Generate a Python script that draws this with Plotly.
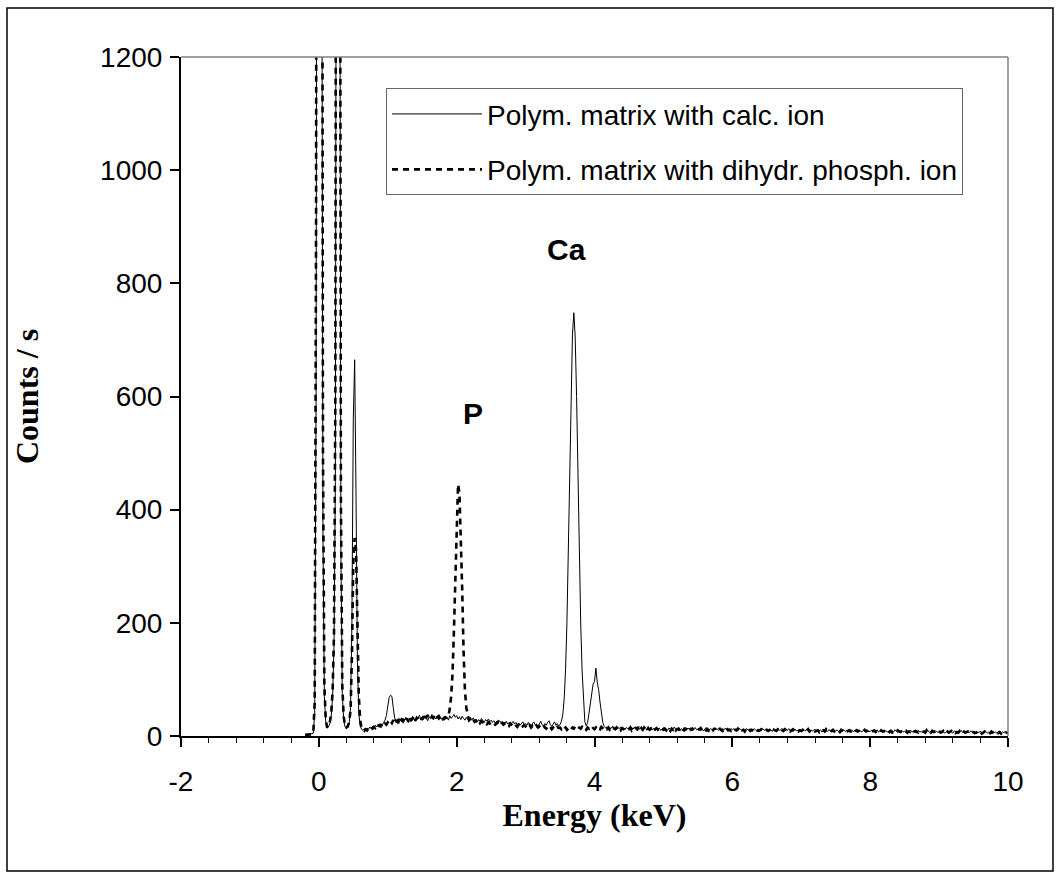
import numpy as np
import plotly.graph_objects as go

# ---- Data -------------------------------------------------------------
# energy channels: -0.20 keV to 10.00 keV, 0.02 keV per channel
energy = np.round(-0.20 + 0.02 * np.arange(511), 2)

# Polym. matrix with calc. ion (solid)
counts_calc = [
    2, 3, 2, 3, 3, 4, 5, 40, 600, 2600,                                  # -0.20 .. -0.02
    4800, 4300, 1700, 350, 70, 25, 14, 16, 22, 35, 70, 160, 450, 2500, 4200, 1900, 330, 75, 30, 16, 14, 16, 22, 50, 200,  # 0.00
    560, 665, 420, 130, 40, 18, 12, 10, 13, 11, 14, 12, 16, 13, 17, 15, 19, 16, 21, 18, 22, 19, 24, 28, 36,        # 0.50
    52, 68, 72, 70, 50, 32, 24, 27, 22, 29, 25, 31, 26, 33, 28, 24, 32, 27, 35, 29, 26, 34, 30, 37, 28,            # 1.00
    33, 29, 36, 30, 27, 34, 31, 38, 29, 33, 30, 36, 28, 34, 31, 27, 35, 30, 33, 28, 36, 31, 34, 38, 33,            # 1.50
    36, 30, 34, 29, 35, 31, 28, 33, 30, 26, 31, 28, 32, 27, 30, 25, 29, 26, 31, 27, 24, 29, 26, 30, 25,            # 2.00
    28, 24, 27, 23, 26, 22, 27, 24, 21, 25, 22, 26, 21, 24, 20, 23, 26, 21, 24, 20, 23, 19, 22, 25, 20,            # 2.50
    22, 19, 24, 20, 18, 22, 25, 19, 21, 17, 23, 26, 20, 18, 22, 19, 24, 27, 20, 17, 21, 25, 19, 22, 18,            # 3.00
    20, 26, 38, 66, 117, 200, 318, 461, 603, 709, 748, 705, 600, 460, 315, 198, 115, 62, 25, 18, 24, 40, 60, 80, 92,  # 3.50
    96, 120, 95, 82, 60, 38, 24, 17, 14, 16, 12, 15, 13, 17, 12, 14, 11, 15, 13, 16, 12, 14, 11, 15, 13,           # 4.00
    14, 11, 15, 12, 16, 13, 10, 14, 12, 17, 11, 13, 15, 10, 14, 12, 16, 11, 13, 9, 15, 12, 14, 10, 13,             # 4.50
    15, 11, 13, 10, 14, 12, 9, 13, 16, 11, 12, 14, 10, 13, 11, 15, 9, 12, 14, 11, 13, 10, 12, 15, 11,              # 5.00
    12, 14, 10, 13, 9, 12, 15, 11, 10, 13, 12, 9, 14, 11, 13, 10, 12, 8, 13, 11, 14, 10, 12, 9, 13,                # 5.50
    11, 13, 10, 12, 9, 14, 11, 10, 12, 8, 13, 11, 10, 12, 9, 11, 13, 10, 8, 12, 11, 9, 13, 10, 11,                 # 6.00
    9, 12, 10, 11, 8, 13, 10, 9, 12, 10, 11, 8, 12, 9, 11, 10, 13, 9, 10, 8, 12, 10, 9, 11, 10,                    # 6.50
    10, 8, 11, 9, 12, 10, 8, 11, 9, 10, 12, 8, 10, 9, 11, 7, 10, 12, 9, 8, 11, 10, 9, 7, 10,                       # 7.00
    9, 11, 8, 10, 7, 9, 11, 8, 10, 9, 7, 11, 9, 8, 10, 9, 12, 8, 9, 7, 10, 8, 11, 9, 8,                            # 7.50
    8, 10, 7, 9, 8, 11, 7, 9, 8, 10, 6, 9, 8, 7, 10, 8, 9, 7, 11, 8, 6, 9, 8, 10, 7,                               # 8.00
    8, 6, 9, 7, 10, 8, 7, 9, 6, 8, 10, 7, 8, 6, 9, 7, 8, 10, 6, 8, 7, 9, 6, 8, 7,                                  # 8.50
    7, 9, 6, 8, 5, 7, 9, 6, 8, 7, 5, 9, 7, 6, 8, 7, 10, 6, 7, 5, 8, 7, 6, 9, 7,                                    # 9.00
    6, 8, 5, 7, 6, 9, 5, 7, 6, 8, 5, 7, 6, 4, 8, 6, 7, 5, 8, 6, 5, 7, 6, 8, 5,                                     # 9.50
    6,                                                                                                              # 10.00
]

# Polym. matrix with dihydr. phosph. ion (dashed)
counts_phosph = [
    2, 2, 3, 2, 3, 3, 6, 60, 900, 3500,                                  # -0.20 .. -0.02
    6500, 6000, 2500, 500, 90, 30, 15, 18, 25, 40, 80, 180, 600, 3200, 5200, 2400, 420, 90, 35, 18, 15, 17, 25, 45, 140,  # 0.00
    310, 350, 330, 200, 70, 28, 14, 11, 9, 12, 10, 13, 11, 15, 13, 16, 14, 18, 15, 19, 17, 21, 18, 22, 20,          # 0.50
    24, 21, 26, 23, 28, 22, 27, 25, 30, 24, 29, 26, 32, 27, 31, 25, 33, 28, 30, 35, 27, 32, 29, 34, 31,            # 1.00
    30, 35, 28, 33, 37, 31, 29, 34, 32, 36, 30, 33, 35, 29, 34, 31, 30, 33, 32, 36, 48, 70, 110, 185, 270,          # 1.50
    370, 445, 430, 360, 260, 150, 80, 50, 35, 28, 30, 26, 29, 25, 27, 24, 28, 23, 26, 24, 22, 25, 21, 24, 22,       # 2.00
    24, 21, 23, 20, 22, 25, 21, 19, 23, 20, 22, 19, 21, 18, 22, 20, 17, 21, 19, 16, 20, 18, 21, 17, 19,            # 2.50
    17, 20, 16, 19, 15, 18, 16, 14, 18, 15, 17, 14, 16, 19, 15, 13, 17, 14, 16, 12, 15, 17, 13, 16, 14,            # 3.00
    15, 12, 16, 13, 15, 11, 14, 16, 12, 15, 13, 17, 14, 12, 15, 13, 16, 12, 14, 11, 15, 13, 16, 12, 14,            # 3.50
    12, 15, 11, 14, 12, 16, 13, 11, 14, 12, 15, 11, 13, 10, 14, 12, 15, 11, 13, 10, 14, 12, 11, 14, 12,            # 4.00
    12, 15, 10, 13, 11, 14, 12, 16, 10, 13, 11, 15, 12, 9, 14, 11, 13, 15, 10, 12, 14, 11, 13, 10, 12,             # 4.50
    11, 13, 10, 14, 12, 9, 13, 11, 15, 10, 12, 13, 9, 14, 11, 10, 13, 12, 9, 14, 11, 13, 10, 12, 11,               # 5.00
    10, 12, 14, 9, 11, 13, 10, 12, 8, 13, 11, 10, 14, 9, 12, 11, 13, 10, 9, 12, 11, 14, 10, 11, 9,                 # 5.50
    12, 9, 11, 10, 13, 9, 12, 10, 11, 8, 12, 10, 13, 9, 11, 10, 8, 12, 11, 9, 10, 12, 9, 11, 10,                   # 6.00
    11, 9, 10, 12, 8, 11, 10, 9, 12, 10, 8, 11, 9, 12, 10, 9, 11, 8, 10, 12, 9, 10, 11, 8, 10,                     # 6.50
    9, 11, 8, 10, 9, 12, 8, 10, 9, 11, 8, 9, 10, 7, 11, 9, 10, 8, 12, 9, 8, 10, 9, 11, 8,                          # 7.00
    10, 8, 9, 7, 11, 9, 8, 10, 7, 9, 10, 8, 11, 9, 7, 10, 8, 9, 10, 7, 9, 11, 8, 9, 7,                             # 7.50
    9, 7, 8, 10, 7, 9, 8, 6, 10, 8, 9, 7, 8, 10, 7, 9, 6, 8, 9, 7, 10, 8, 7, 9, 8,                                 # 8.00
    7, 9, 6, 8, 7, 10, 6, 8, 9, 7, 6, 8, 9, 7, 8, 6, 10, 7, 8, 6, 9, 7, 8, 6, 9,                                   # 8.50
    8, 6, 7, 9, 5, 7, 8, 6, 7, 9, 6, 8, 5, 7, 6, 9, 7, 5, 8, 6, 7, 8, 6, 5, 8,                                     # 9.00
    7, 5, 6, 8, 5, 7, 4, 6, 8, 5, 7, 6, 5, 8, 6, 4, 7, 6, 5, 7, 4, 6, 8, 5, 6,                                     # 9.50
    5,                                                                                                              # 10.00
]

series_names = ["Polym. matrix with calc. ion", "Polym. matrix with dihydr. phosph. ion"]
peak_labels = ["Ca", "P"]
peak_label_x = [3.60, 2.23]
peak_label_y = [860, 570]
x_ticks = [-2, 0, 2, 4, 6, 8, 10]
y_ticks = [0, 200, 400, 600, 800, 1000, 1200]

assert len(counts_calc) == len(energy) == len(counts_phosph)

# ---- Figure -----------------------------------------------------------
SANS = "Liberation Sans, Arial, sans-serif"
SERIF = "Liberation Serif, Times New Roman, serif"

fig = go.Figure()
fig.add_trace(go.Scatter(
    x=energy, y=counts_calc, mode="lines", name=series_names[0],
    line=dict(color="black", width=1), legendgroup="a",
))
fig.add_trace(go.Scatter(
    x=energy, y=counts_phosph, mode="lines", name=series_names[1],
    line=dict(color="black", width=2.6, dash="6px,5px"), legendgroup="b",
))

for lbl, lx, ly in zip(peak_labels, peak_label_x, peak_label_y):
    fig.add_annotation(x=lx, y=ly, text=f"<b>{lbl}</b>", showarrow=False,
                       font=dict(family=SANS, size=30, color="black"))

# plot-area frame (gray top/right) and outer chart border
fig.add_shape(type="line", xref="paper", yref="paper", x0=0, x1=1, y0=1, y1=1,
              line=dict(color="#808080", width=1.5))
fig.add_shape(type="line", xref="paper", yref="paper", x0=1, x1=1, y0=0, y1=1,
              line=dict(color="#808080", width=1.5))
fig.add_shape(type="rect", xref="paper", yref="paper",
              x0=-0.2104, x1=1.0544, y0=-0.1988, y1=1.0722,
              line=dict(color="black", width=1.5), fillcolor="rgba(0,0,0,0)")

fig.update_layout(
    width=1060, height=877,
    margin=dict(l=181, r=52, t=57, b=141),
    paper_bgcolor="white", plot_bgcolor="white",
    font=dict(family=SANS, size=28, color="black"),
    showlegend=True,
    legend=dict(
        x=0.2479, y=0.954, xanchor="left", yanchor="top",
        font=dict(family=SANS, size=28, color="black"),
        bgcolor="white", bordercolor="#666666", borderwidth=1,
        tracegroupgap=16, itemwidth=90,
    ),
    xaxis=dict(
        range=[-2, 10], tickvals=x_ticks, ticktext=[str(v) for v in x_ticks],
        ticks="outside", ticklen=9, tickwidth=1.5, tickcolor="black",
        ticklabelstandoff=10,
        minor=dict(dtick=0.4, tick0=0, ticks="outside", ticklen=5, tickwidth=1, tickcolor="black"),
        showline=True, linecolor="black", linewidth=2,
        showgrid=False, zeroline=False,
        tickfont=dict(family=SANS, size=28),
        title=dict(text="<b>Energy (keV)</b>", font=dict(family=SERIF, size=32), standoff=2),
    ),
    yaxis=dict(
        range=[0, 1200], tickvals=y_ticks, ticktext=[str(v) for v in y_ticks],
        ticks="outside", ticklen=9, tickwidth=1.5, tickcolor="black",
        ticklabelstandoff=2,
        showline=True, linecolor="black", linewidth=2,
        showgrid=False, zeroline=False,
        tickfont=dict(family=SANS, size=28),
        title=dict(text="<b>Counts / s</b>", font=dict(family=SERIF, size=32), standoff=52),
    ),
)

fig.write_html("out.html")
